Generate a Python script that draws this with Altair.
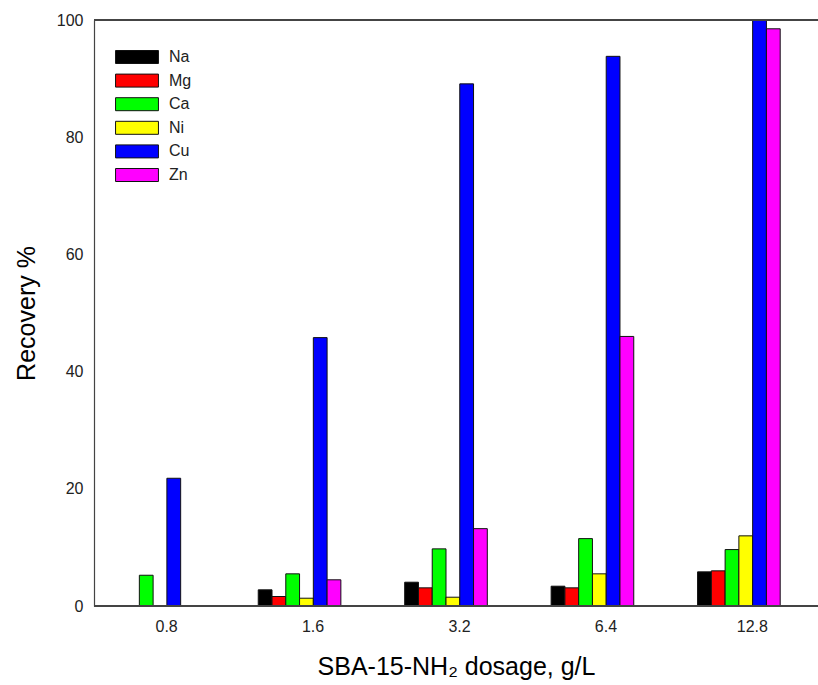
import altair as alt
import pandas as pd

dosages = ["0.8", "1.6", "3.2", "6.4", "12.8"]
elements = ["Na", "Mg", "Ca", "Ni", "Cu", "Zn"]
colors = ["#000000", "#ff0000", "#00ff00", "#ffff00", "#0000ff", "#ff00ff"]

# recovery % per element, one value per dosage (None = no bar)
na = [None, 2.76, 4.06, 3.38, 5.83]
mg = [None, 1.62, 3.10, 3.10, 6.00]
ca = [5.25, 5.49, 9.75, 11.5, 9.63]
ni = [None, 1.33, 1.50, 5.49, 11.97]
cu = [21.8, 45.8, 89.1, 93.8, 100.0]
zn = [None, 4.47, 13.2, 46.0, 98.5]

series = {"Na": na, "Mg": mg, "Ca": ca, "Ni": ni, "Cu": cu, "Zn": zn}
rows = []
for el in elements:
    for d, v in zip(dosages, series[el]):
        if v is not None:
            rows.append({"dosage": d, "element": el, "recovery": v})
df = pd.DataFrame(rows)

FONT = "Liberation Sans"
W = 704
H = 586

bars = alt.Chart(df).mark_bar(stroke="#111111", strokeWidth=1).encode(
    x=alt.X("dosage:N", sort=dosages,
            scale=alt.Scale(domain=dosages, paddingInner=0.4358, paddingOuter=0.1216),
            axis=alt.Axis(title="SBA-15-NH\u2082 dosage, g/L", labelAngle=0, ticks=False,
                          labelOffset=13.5, labelPadding=12, labelFontSize=16,
                          labelFont=FONT, labelColor="#222222",
                          titleFont=FONT, titleFontSize=25, titleFontWeight="normal",
                          titleColor="#000000", titleX=362, titleY=68,
                          titleBaseline="alphabetic", titleAlign="center",
                          domainColor="#444444", domainWidth=1.2)),
    xOffset=alt.XOffset("element:N", sort=elements, scale=alt.Scale(domain=elements)),
    y=alt.Y("recovery:Q", scale=alt.Scale(domain=[0, 100], nice=False),
            axis=alt.Axis(title="Recovery %", values=[0, 20, 40, 60, 80, 100],
                          ticks=False, grid=False, labelPadding=11, labelFontSize=16,
                          labelFont=FONT, labelColor="#222222",
                          titleFont=FONT, titleFontSize=25, titleFontWeight="normal",
                          titleColor="#000000", titlePadding=17,
                          domainColor="#444444", domainWidth=1.2)),
    color=alt.Color("element:N", sort=elements,
                    scale=alt.Scale(domain=elements, range=colors),
                    legend=alt.Legend(title=None, orient="none", legendX=35, legendY=29,
                                      symbolType="M-3.3,-1H3.3V1H-3.3Z", symbolSize=169,
                                      symbolStrokeColor="#111111", symbolStrokeWidth=1,
                                      labelFont=FONT, labelFontSize=16, labelColor="#222222",
                                      labelOffset=24, rowPadding=5.6)),
)

top_line = alt.Chart(df).mark_rule(color="#444444", strokeWidth=1.2).encode(
    x=alt.value(0), x2=alt.value(730), y=alt.value(0))
bottom_line = alt.Chart(df).mark_rule(color="#444444", strokeWidth=1.2).encode(
    x=alt.value(0), x2=alt.value(730), y=alt.value(H))

chart = alt.layer(bars, top_line, bottom_line).properties(
    width=W, height=H,
    autosize=alt.AutoSizeParams(type="none"),
    padding={"left": 94, "top": 20, "right": 20, "bottom": 79},
).configure(background="white", view=alt.ViewConfig(stroke=None))

chart.save("out.html", embed_options={"renderer": "svg", "actions": False})
